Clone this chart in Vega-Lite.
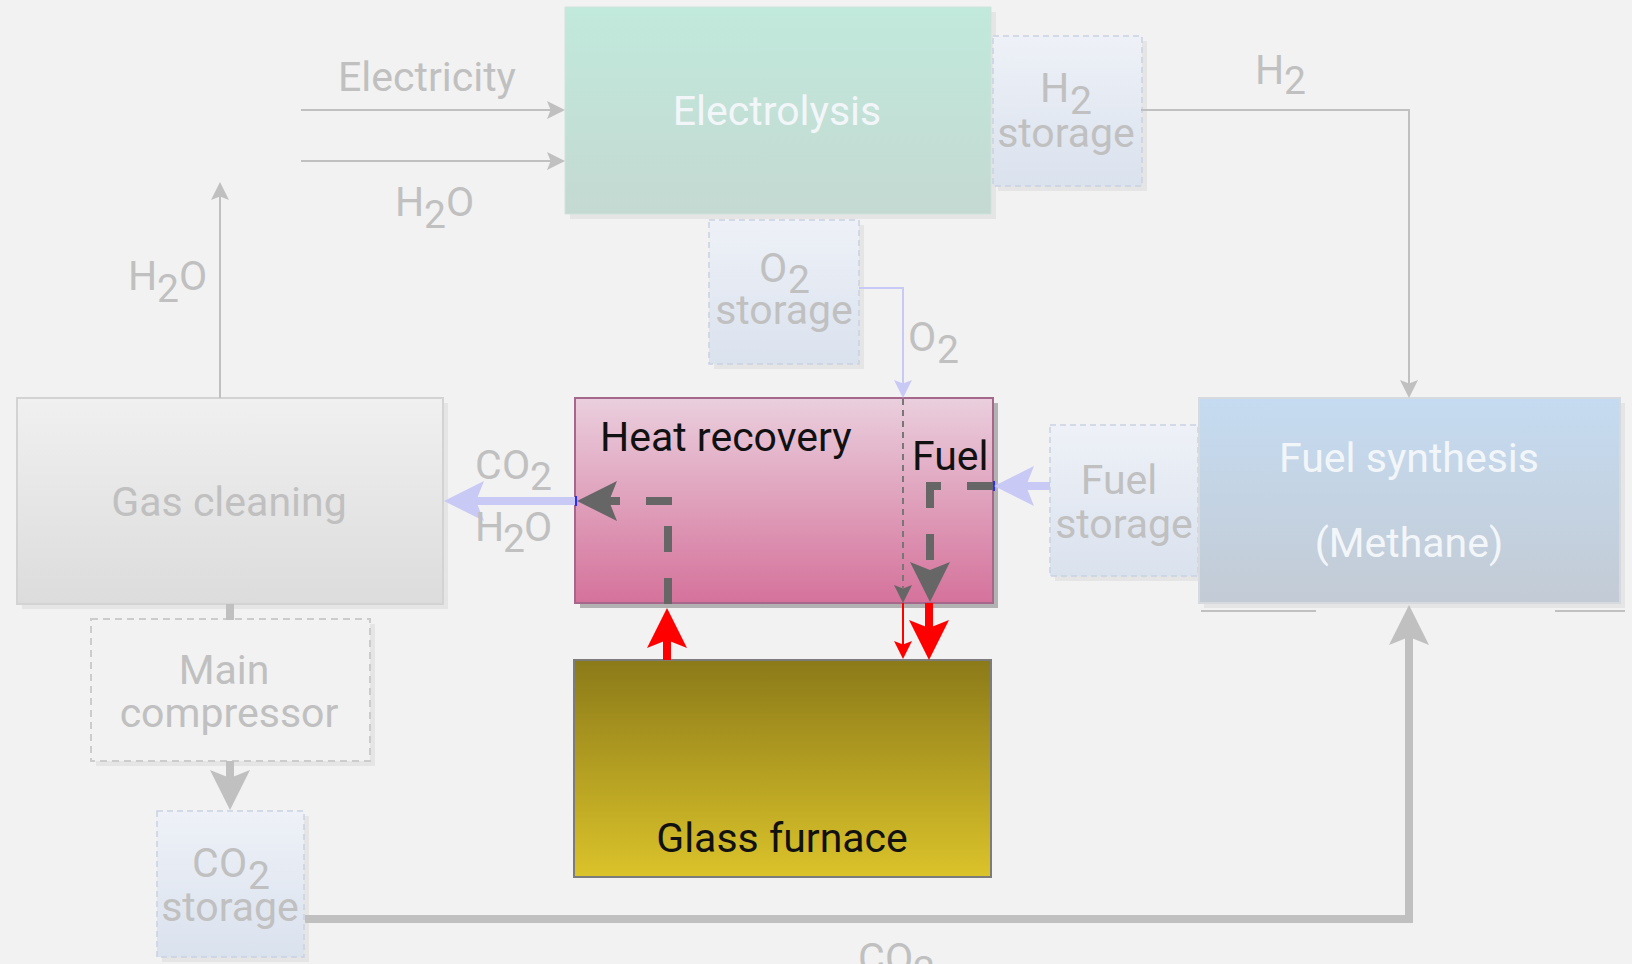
{
  "$schema": "https://vega.github.io/schema/vega-lite/v6.json",
  "width": 1632,
  "height": 964,
  "padding": 0,
  "autosize": {"type": "none"},
  "background": "#f2f2f2",
  "config": {"view": {"stroke": null}},
  "datasets": {
    "boxes": [
      {"name": "Electrolysis", "kind": "process", "active": false, "x": 565, "x2": 991, "y": 7, "y2": 214},
      {"name": "H2 storage", "kind": "storage", "active": false, "x": 993, "x2": 1142, "y": 36, "y2": 186},
      {"name": "O2 storage", "kind": "storage", "active": false, "x": 709, "x2": 859, "y": 220, "y2": 364},
      {"name": "Gas cleaning", "kind": "process", "active": false, "x": 17, "x2": 443, "y": 398, "y2": 604},
      {"name": "Heat recovery", "kind": "process", "active": true, "x": 575, "x2": 993, "y": 398, "y2": 603},
      {"name": "Fuel storage", "kind": "storage", "active": false, "x": 1050, "x2": 1198, "y": 425, "y2": 576},
      {"name": "Fuel synthesis", "kind": "process", "active": false, "x": 1199, "x2": 1620, "y": 398, "y2": 603},
      {"name": "Main compressor", "kind": "equipment", "active": false, "x": 91, "x2": 370, "y": 619, "y2": 761},
      {"name": "CO2 storage", "kind": "storage", "active": false, "x": 157, "x2": 304, "y": 811, "y2": 957},
      {"name": "Glass furnace", "kind": "process", "active": true, "x": 574, "x2": 991, "y": 660, "y2": 877}
    ],
    "segments": [
      {"flow": "supply", "weight": "thin", "pattern": "solid", "x": 302, "y": 110, "x2": 556, "y2": 110},
      {"flow": "supply", "weight": "thin", "pattern": "solid", "x": 302, "y": 161, "x2": 556, "y2": 161},
      {"flow": "supply", "weight": "thin", "pattern": "solid", "x": 1142, "y": 110, "x2": 1409, "y2": 110},
      {"flow": "supply", "weight": "thin", "pattern": "solid", "x": 1409, "y": 110, "x2": 1409, "y2": 388},
      {"flow": "supply", "weight": "thin", "pattern": "solid", "x": 220, "y": 397, "x2": 220, "y2": 194},
      {"flow": "supply", "weight": "thin", "pattern": "solid", "x": 1202, "y": 611, "x2": 1315, "y2": 611},
      {"flow": "supply", "weight": "thin", "pattern": "solid", "x": 1556, "y": 611, "x2": 1624, "y2": 611},
      {"flow": "supply", "weight": "thick", "pattern": "solid", "x": 230, "y": 608, "x2": 230, "y2": 616},
      {"flow": "supply", "weight": "thick", "pattern": "solid", "x": 230, "y": 765, "x2": 230, "y2": 782},
      {"flow": "supply", "weight": "thick", "pattern": "solid", "x": 309, "y": 919, "x2": 1409, "y2": 919},
      {"flow": "supply", "weight": "thick", "pattern": "solid", "x": 1409, "y": 919, "x2": 1409, "y2": 640},
      {"flow": "feed", "weight": "thin", "pattern": "solid", "x": 860, "y": 288, "x2": 903, "y2": 288},
      {"flow": "feed", "weight": "thin", "pattern": "solid", "x": 903, "y": 288, "x2": 903, "y2": 384},
      {"flow": "feed", "weight": "thick", "pattern": "solid", "x": 571, "y": 501, "x2": 478, "y2": 501},
      {"flow": "feed", "weight": "thick", "pattern": "solid", "x": 1046, "y": 486, "x2": 1028, "y2": 486},
      {"flow": "internal", "weight": "thick", "pattern": "dashed", "x": 668, "y": 604, "x2": 668, "y2": 501},
      {"flow": "internal", "weight": "thick", "pattern": "dashed", "x": 672, "y": 501, "x2": 606, "y2": 501},
      {"flow": "internal", "weight": "thick", "pattern": "dashed", "x": 993, "y": 486, "x2": 926, "y2": 486},
      {"flow": "internal", "weight": "thick", "pattern": "dashed", "x": 930, "y": 482, "x2": 930, "y2": 566},
      {"flow": "internal", "weight": "thin", "pattern": "dotted", "x": 903, "y": 399, "x2": 903, "y2": 588},
      {"flow": "heat", "weight": "thick", "pattern": "solid", "x": 667, "y": 656, "x2": 667, "y2": 640},
      {"flow": "heat", "weight": "thick", "pattern": "solid", "x": 929, "y": 607, "x2": 929, "y2": 625},
      {"flow": "heat", "weight": "thin", "pattern": "solid", "x": 903, "y": 604, "x2": 903, "y2": 644},
      {"flow": "marker", "weight": "thin", "pattern": "solid", "x": 576, "y": 497, "x2": 576, "y2": 505},
      {"flow": "marker", "weight": "thin", "pattern": "solid", "x": 994, "y": 482, "x2": 994, "y2": 490}
    ],
    "heads": [
      {"flow": "supply", "weight": "thin", "x": 556, "y": 110, "angle": 90},
      {"flow": "supply", "weight": "thin", "x": 556, "y": 161, "angle": 90},
      {"flow": "supply", "weight": "thin", "x": 220, "y": 191, "angle": 0},
      {"flow": "supply", "weight": "thin", "x": 1409, "y": 389, "angle": 180},
      {"flow": "feed", "weight": "thin", "x": 903, "y": 389, "angle": 180},
      {"flow": "internal", "weight": "thin", "x": 903, "y": 594, "angle": 180},
      {"flow": "heat", "weight": "thin", "x": 903, "y": 650, "angle": 180},
      {"flow": "supply", "weight": "thick", "x": 1409, "y": 625, "angle": 0},
      {"flow": "supply", "weight": "thick", "x": 230, "y": 790, "angle": 180},
      {"flow": "feed", "weight": "thick", "x": 464, "y": 501, "angle": 270},
      {"flow": "feed", "weight": "thick", "x": 1014, "y": 486, "angle": 270},
      {"flow": "internal", "weight": "thick", "x": 597, "y": 501, "angle": 270},
      {"flow": "internal", "weight": "thick", "x": 930, "y": 582, "angle": 180},
      {"flow": "heat", "weight": "thick", "x": 667, "y": 628, "angle": 0},
      {"flow": "heat", "weight": "thick", "x": 929, "y": 640, "angle": 180}
    ],
    "labels": [
      {"role": "title", "text": "Electricity", "x": 427, "y": 79, "emphasis": "faded"},
      {"role": "title", "text": "Electrolysis", "x": 777, "y": 113, "emphasis": "inverse"},
      {"role": "title", "text": "storage", "x": 1066, "y": 135, "emphasis": "faded"},
      {"role": "title", "text": "storage", "x": 784, "y": 312, "emphasis": "faded"},
      {"role": "title", "text": "Gas cleaning", "x": 229, "y": 504, "emphasis": "faded"},
      {"role": "title", "text": "Fuel", "x": 1119, "y": 482, "emphasis": "faded"},
      {"role": "title", "text": "storage", "x": 1124, "y": 526, "emphasis": "faded"},
      {"role": "title", "text": "Fuel synthesis", "x": 1409, "y": 460, "emphasis": "inverse"},
      {"role": "title", "text": "(Methane)", "x": 1409, "y": 545, "emphasis": "inverse"},
      {"role": "title", "text": "Main", "x": 224, "y": 672, "emphasis": "faded"},
      {"role": "title", "text": "compressor", "x": 229, "y": 715, "emphasis": "faded"},
      {"role": "title", "text": "storage", "x": 230, "y": 909, "emphasis": "faded"},
      {"role": "title", "text": "Glass furnace", "x": 782, "y": 840, "emphasis": "strong"},
      {"role": "caption", "text": "Heat recovery", "x": 600, "y": 439, "emphasis": "strong"},
      {"role": "caption", "text": "Fuel", "x": 912, "y": 458, "emphasis": "strong"},
      {"role": "formula", "text": "H", "x": 395, "y": 204, "emphasis": "faded"},
      {"role": "formula", "text": "O", "x": 446, "y": 204, "emphasis": "faded"},
      {"role": "index", "text": "2", "x": 424, "y": 216, "emphasis": "faded"},
      {"role": "formula", "text": "H", "x": 128, "y": 278, "emphasis": "faded"},
      {"role": "formula", "text": "O", "x": 179, "y": 278, "emphasis": "faded"},
      {"role": "index", "text": "2", "x": 157, "y": 290, "emphasis": "faded"},
      {"role": "formula", "text": "C", "x": 475, "y": 467, "emphasis": "faded"},
      {"role": "formula", "text": "O", "x": 502, "y": 467, "emphasis": "faded"},
      {"role": "index", "text": "2", "x": 530, "y": 478, "emphasis": "faded"},
      {"role": "formula", "text": "H", "x": 475, "y": 529, "emphasis": "faded"},
      {"role": "formula", "text": "O", "x": 524, "y": 529, "emphasis": "faded"},
      {"role": "index", "text": "2", "x": 503, "y": 540, "emphasis": "faded"},
      {"role": "formula", "text": "H", "x": 1255, "y": 72, "emphasis": "faded"},
      {"role": "index", "text": "2", "x": 1284, "y": 82, "emphasis": "faded"},
      {"role": "formula", "text": "H", "x": 1040, "y": 90, "emphasis": "faded"},
      {"role": "index", "text": "2", "x": 1070, "y": 102, "emphasis": "faded"},
      {"role": "formula", "text": "O", "x": 759, "y": 270, "emphasis": "faded"},
      {"role": "index", "text": "2", "x": 788, "y": 281, "emphasis": "faded"},
      {"role": "formula", "text": "O", "x": 908, "y": 339, "emphasis": "faded"},
      {"role": "index", "text": "2", "x": 937, "y": 351, "emphasis": "faded"},
      {"role": "formula", "text": "C", "x": 192, "y": 865, "emphasis": "faded"},
      {"role": "formula", "text": "O", "x": 219, "y": 865, "emphasis": "faded"},
      {"role": "index", "text": "2", "x": 248, "y": 877, "emphasis": "faded"},
      {"role": "formula", "text": "C", "x": 858, "y": 960, "emphasis": "faded"},
      {"role": "formula", "text": "O", "x": 885, "y": 960, "emphasis": "faded"},
      {"role": "index", "text": "2", "x": 913, "y": 972, "emphasis": "faded"}
    ]
  },
  "encoding": {
    "x": {"field": "x", "type": "quantitative", "scale": {"domain": [0, 1632], "nice": false, "zero": false}, "axis": null},
    "y": {"field": "y", "type": "quantitative", "scale": {"domain": [0, 964], "nice": false, "zero": false, "reverse": true}, "axis": null}
  },
  "layer": [
    {
      "data": {"name": "boxes"},
      "transform": [{"filter": "datum.name !== 'Glass furnace'"}],
      "mark": {"type": "rect", "xOffset": 5, "x2Offset": 5, "yOffset": 5, "y2Offset": 5},
      "encoding": {
        "x2": {"field": "x2"},
        "y2": {"field": "y2"},
        "color": {"condition": {"test": "datum.active", "value": "#b2b2b2"}, "value": "#e5e5e5"}
      }
    },
    {
      "data": {"name": "boxes"},
      "transform": [{"filter": "datum.name === 'Electrolysis'"}],
      "mark": {"type": "rect", "stroke": "#cfe3dc", "strokeWidth": 1,
        "fill": {"gradient": "linear", "x1": 0, "y1": 0, "x2": 0, "y2": 1, "stops": [{"offset": 0, "color": "#c1e9dc"}, {"offset": 1, "color": "#c4d9d2"}]}},
      "encoding": {"x2": {"field": "x2"}, "y2": {"field": "y2"}}
    },
    {
      "data": {"name": "boxes"},
      "transform": [{"filter": "datum.kind === 'storage'"}],
      "mark": {"type": "rect", "stroke": "#c9d2e2", "strokeWidth": 1.5, "strokeDash": [6, 4],
        "fill": {"gradient": "linear", "x1": 0, "y1": 0, "x2": 0, "y2": 1, "stops": [{"offset": 0, "color": "#eef1f7"}, {"offset": 1, "color": "#dae2ee"}]}},
      "encoding": {"x2": {"field": "x2"}, "y2": {"field": "y2"}}
    },
    {
      "data": {"name": "boxes"},
      "transform": [{"filter": "datum.name === 'Gas cleaning'"}],
      "mark": {"type": "rect", "stroke": "#d3d3d3", "strokeWidth": 2,
        "fill": {"gradient": "linear", "x1": 0, "y1": 0, "x2": 0, "y2": 1, "stops": [{"offset": 0, "color": "#f0f0f0"}, {"offset": 1, "color": "#dcdcdc"}]}},
      "encoding": {"x2": {"field": "x2"}, "y2": {"field": "y2"}}
    },
    {
      "data": {"name": "boxes"},
      "transform": [{"filter": "datum.name === 'Heat recovery'"}],
      "mark": {"type": "rect", "stroke": "#a5678a", "strokeWidth": 2,
        "fill": {"gradient": "linear", "x1": 0, "y1": 0, "x2": 0, "y2": 1, "stops": [{"offset": 0, "color": "#eacfdd"}, {"offset": 1, "color": "#d5729b"}]}},
      "encoding": {"x2": {"field": "x2"}, "y2": {"field": "y2"}}
    },
    {
      "data": {"name": "boxes"},
      "transform": [{"filter": "datum.kind === 'equipment'"}],
      "mark": {"type": "rect", "fill": "#f2f2f2", "stroke": "#cccccc", "strokeWidth": 2, "strokeDash": [7, 5]},
      "encoding": {"x2": {"field": "x2"}, "y2": {"field": "y2"}}
    },
    {
      "data": {"name": "boxes"},
      "transform": [{"filter": "datum.name === 'Fuel synthesis'"}],
      "mark": {"type": "rect", "stroke": "#d6d9dd", "strokeWidth": 2,
        "fill": {"gradient": "linear", "x1": 0, "y1": 0, "x2": 0, "y2": 1, "stops": [{"offset": 0, "color": "#c5dbf1"}, {"offset": 1, "color": "#c3cbd5"}]}},
      "encoding": {"x2": {"field": "x2"}, "y2": {"field": "y2"}}
    },
    {
      "data": {"name": "boxes"},
      "transform": [{"filter": "datum.name === 'Glass furnace'"}],
      "mark": {"type": "rect", "stroke": "#7c7c7c", "strokeWidth": 2,
        "fill": {"gradient": "linear", "x1": 0, "y1": 0, "x2": 0, "y2": 1, "stops": [{"offset": 0, "color": "#8b7a19"}, {"offset": 1, "color": "#dbc32a"}]}},
      "encoding": {"x2": {"field": "x2"}, "y2": {"field": "y2"}}
    },
    {
      "data": {"name": "segments"},
      "transform": [{"filter": "datum.weight === 'thick' && datum.pattern === 'solid'"}],
      "mark": {"type": "rule", "strokeWidth": 8, "strokeCap": "square"},
      "encoding": {
        "x2": {"field": "x2"}, "y2": {"field": "y2"},
        "color": {"field": "flow", "type": "nominal", "legend": null,
          "scale": {"domain": ["supply", "feed", "internal", "heat", "marker"], "range": ["#c0c0c0", "#c9c9f6", "#666666", "#ff0000", "#2b2bff"]}}
      }
    },
    {
      "data": {"name": "segments"},
      "transform": [{"filter": "datum.pattern === 'dashed'"}],
      "mark": {"type": "rule", "strokeWidth": 8, "strokeCap": "butt", "strokeDash": [26, 26]},
      "encoding": {
        "x2": {"field": "x2"}, "y2": {"field": "y2"},
        "color": {"field": "flow", "type": "nominal", "legend": null,
          "scale": {"domain": ["supply", "feed", "internal", "heat", "marker"], "range": ["#c0c0c0", "#c9c9f6", "#666666", "#ff0000", "#2b2bff"]}}
      }
    },
    {
      "data": {"name": "segments"},
      "transform": [{"filter": "datum.weight === 'thin' && datum.pattern === 'solid'"}],
      "mark": {"type": "rule", "strokeWidth": 2, "strokeCap": "square"},
      "encoding": {
        "x2": {"field": "x2"}, "y2": {"field": "y2"},
        "color": {"field": "flow", "type": "nominal", "legend": null,
          "scale": {"domain": ["supply", "feed", "internal", "heat", "marker"], "range": ["#c0c0c0", "#c9c9f6", "#666666", "#ff0000", "#2b2bff"]}}
      }
    },
    {
      "data": {"name": "segments"},
      "transform": [{"filter": "datum.pattern === 'dotted'"}],
      "mark": {"type": "rule", "strokeWidth": 2, "strokeCap": "butt", "strokeDash": [6, 5]},
      "encoding": {
        "x2": {"field": "x2"}, "y2": {"field": "y2"},
        "color": {"field": "flow", "type": "nominal", "legend": null,
          "scale": {"domain": ["supply", "feed", "internal", "heat", "marker"], "range": ["#c0c0c0", "#c9c9f6", "#777777", "#ff0000", "#2b2bff"]}}
      }
    },
    {
      "data": {"name": "heads"},
      "transform": [{"filter": "datum.weight === 'thin'"}],
      "mark": {"type": "point", "shape": "M0,-1L1,1L0,0.6L-1,1Z", "filled": true, "opacity": 1, "size": 324, "strokeWidth": 0},
      "encoding": {
        "angle": {"field": "angle", "type": "quantitative", "scale": null},
        "color": {"field": "flow", "type": "nominal", "legend": null,
          "scale": {"domain": ["supply", "feed", "internal", "heat", "marker"], "range": ["#c0c0c0", "#c9c9f6", "#666666", "#ff0000", "#2b2bff"]}}
      }
    },
    {
      "data": {"name": "heads"},
      "transform": [{"filter": "datum.weight === 'thick'"}],
      "mark": {"type": "point", "shape": "M0,-1L1,1L0,0.6L-1,1Z", "filled": true, "opacity": 1, "size": 1600, "strokeWidth": 0},
      "encoding": {
        "angle": {"field": "angle", "type": "quantitative", "scale": null},
        "color": {"field": "flow", "type": "nominal", "legend": null,
          "scale": {"domain": ["supply", "feed", "internal", "heat", "marker"], "range": ["#c0c0c0", "#c9c9f6", "#666666", "#ff0000", "#2b2bff"]}}
      }
    },
    {
      "data": {"name": "labels"},
      "transform": [{"filter": "datum.role === 'title'"}],
      "mark": {"type": "text", "align": "center", "baseline": "middle", "font": "Roboto", "fontSize": 41},
      "encoding": {
        "text": {"field": "text"},
        "color": {"field": "emphasis", "type": "nominal", "legend": null,
          "scale": {"domain": ["faded", "inverse", "strong"], "range": ["#c0c0c0", "#f3f6f9", "#111111"]}}
      }
    },
    {
      "data": {"name": "labels"},
      "transform": [{"filter": "datum.role === 'caption' || datum.role === 'formula'"}],
      "mark": {"type": "text", "align": "left", "baseline": "middle", "font": "Roboto", "fontSize": 41},
      "encoding": {
        "text": {"field": "text"},
        "color": {"field": "emphasis", "type": "nominal", "legend": null,
          "scale": {"domain": ["faded", "inverse", "strong"], "range": ["#c0c0c0", "#f3f6f9", "#111111"]}}
      }
    },
    {
      "data": {"name": "labels"},
      "transform": [{"filter": "datum.role === 'index'"}],
      "mark": {"type": "text", "align": "left", "baseline": "middle", "font": "Roboto", "fontSize": 39},
      "encoding": {
        "text": {"field": "text"},
        "color": {"field": "emphasis", "type": "nominal", "legend": null,
          "scale": {"domain": ["faded", "inverse", "strong"], "range": ["#c0c0c0", "#f3f6f9", "#111111"]}}
      }
    }
  ],
  "resolve": {"scale": {"color": "independent"}}
}
